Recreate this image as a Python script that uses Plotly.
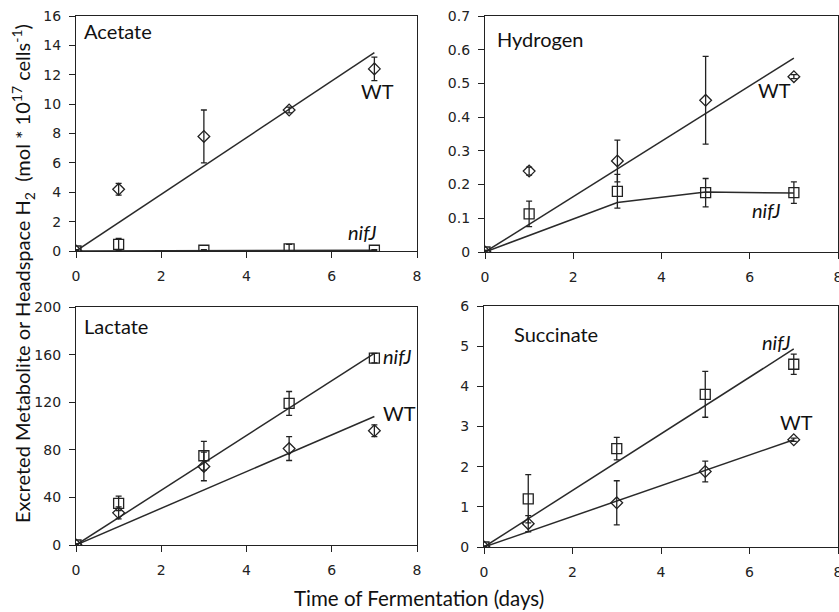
import plotly.graph_objects as go

days = [0, 1, 3, 5, 7]

# Acetate
ace_wt = [0, 4.2, 7.8, 9.6, 12.4]
ace_wt_err = [0.1, 0.4, 1.8, 0.2, 0.8]
ace_nif = [0, 0.45, 0.05, 0.15, 0.05]
ace_nif_err = [0.05, 0.4, 0.05, 0.3, 0.05]
ace_wt_fit = [0, 13.5]
ace_nif_fit = [0, 0.05]

# Hydrogen
h2_wt = [0, 0.24, 0.27, 0.45, 0.52]
h2_wt_err = [0.005, 0.012, 0.062, 0.13, 0.006]
h2_nif = [0, 0.113, 0.18, 0.176, 0.176]
h2_nif_err = [0.005, 0.038, 0.05, 0.042, 0.032]
h2_wt_fit = [0, 0.575]
h2_nif_fit_x = [0, 3, 5, 7]
h2_nif_fit = [0, 0.147, 0.178, 0.175]

# Lactate
lac_wt = [0, 27, 66, 81, 96]
lac_wt_err = [1, 5, 12, 10, 5]
lac_nif = [0, 35, 75, 119, 157]
lac_nif_err = [1, 6, 12, 10, 4]
lac_wt_fit = [0, 108]
lac_nif_fit = [0, 161]

# Succinate
suc_wt = [0, 0.58, 1.1, 1.88, 2.67]
suc_wt_err = [0.02, 0.2, 0.55, 0.26, 0.04]
suc_nif = [0, 1.2, 2.45, 3.8, 4.55]
suc_nif_err = [0.02, 0.6, 0.28, 0.57, 0.25]
suc_wt_fit = [0, 2.67]
suc_nif_fit = [0, 4.93]

fit_x = [0, 7]

W, H = 839, 612
panels = [
    dict(wt=ace_wt, wte=ace_wt_err, nif=ace_nif, nife=ace_nif_err,
         fits=[(fit_x, ace_wt_fit), (fit_x, ace_nif_fit)], yr=[0, 16], dt=2,
         xd=[76/W, 417/W], yd=[1-251/H, 1-16/H],
         labels=[("Acetate", 0.15, 15.0, "left"), ("WT", 7.07, 10.9, "center"),
                 ("<i>nifJ</i>", 6.71, 1.3, "center")]),
    dict(wt=h2_wt, wte=h2_wt_err, nif=h2_nif, nife=h2_nif_err,
         fits=[(fit_x, h2_wt_fit), (h2_nif_fit_x, h2_nif_fit)], yr=[0, 0.7], dt=0.1,
         xd=[485/W, 838/W], yd=[1-252/H, 1-16/H],
         labels=[("Hydrogen", 0.23, 0.632, "left"), ("WT", 6.57, 0.48, "center"),
                 ("<i>nifJ</i>", 6.39, 0.125, "center")]),
    dict(wt=lac_wt, wte=lac_wt_err, nif=lac_nif, nife=lac_nif_err,
         fits=[(fit_x, lac_wt_fit), (fit_x, lac_nif_fit)], yr=[0, 200], dt=40,
         xd=[76/W, 417/W], yd=[1-545/H, 1-307/H],
         labels=[("Lactate", 0.15, 184, "left"), ("WT", 7.58, 111, "center"),
                 ("<i>nifJ</i>", 7.55, 159, "center")]),
    dict(wt=suc_wt, wte=suc_wt_err, nif=suc_nif, nife=suc_nif_err,
         fits=[(fit_x, suc_wt_fit), (fit_x, suc_nif_fit)], yr=[0, 6], dt=1,
         xd=[484/W, 838/W], yd=[1-547/H, 1-306/H],
         labels=[("Succinate", 0.63, 5.30, "left"), ("WT", 7.07, 3.11, "center"),
                 ("<i>nifJ</i>", 6.62, 5.10, "center")]),
]

fig = go.Figure()
line_col = "#2a2a2a"
mk_col = "#222222"
annotations = []
for i, p in enumerate(panels, start=1):
    xa = "x" if i == 1 else f"x{i}"
    ya = "y" if i == 1 else f"y{i}"
    for fx, fy in p["fits"]:
        fig.add_trace(go.Scatter(x=fx, y=fy, mode="lines", xaxis=xa, yaxis=ya,
                                 line=dict(color=line_col, width=1.5), showlegend=False,
                                 hoverinfo="skip"))
    fig.add_trace(go.Scatter(x=days, y=p["nif"], mode="markers", xaxis=xa, yaxis=ya,
                             marker=dict(symbol="square-open", size=10, color=mk_col,
                                         line=dict(width=1.3, color=mk_col)),
                             error_y=dict(type="data", array=p["nife"], color=mk_col,
                                          thickness=1.3, width=3),
                             showlegend=False))
    fig.add_trace(go.Scatter(x=days, y=p["wt"], mode="markers", xaxis=xa, yaxis=ya,
                             marker=dict(symbol="diamond-open", size=9, color=mk_col,
                                         line=dict(width=1.3, color=mk_col)),
                             error_y=dict(type="data", array=p["wte"], color=mk_col,
                                          thickness=1.3, width=3),
                             showlegend=False))
    axkey = "xaxis" if i == 1 else f"xaxis{i}"
    aykey = "yaxis" if i == 1 else f"yaxis{i}"
    common = dict(showgrid=False, zeroline=False, showline=True, linecolor="#222",
                  linewidth=1.3, mirror=True, ticks="outside", ticklen=6,
                  automargin=False, ticklabeloverflow="allow",
                  tickcolor="#222", tickfont=dict(family="DejaVu Sans", size=14, color="#222"))
    fig.update_layout({
        axkey: dict(domain=p["xd"], range=[0, 8], dtick=2, tick0=0, anchor=ya,
                    ticklabelstandoff=6, **common),
        aykey: dict(domain=p["yd"], range=p["yr"], dtick=p["dt"], tick0=0, anchor=xa,
                    ticklabelstandoff=5, **common),
    })
    for txt, lx, ly, al in p["labels"]:
        annotations.append(dict(text=txt, x=lx, y=ly, xref=xa, yref=ya, showarrow=False,
                                xanchor=al, yanchor="middle",
                                font=dict(family="Lato", size=20, color="#111")))

annotations.append(dict(text="Time of Fermentation (days)", x=419/W, y=1-598/H,
                        xref="paper", yref="paper", showarrow=False,
                        xanchor="center", yanchor="middle",
                        font=dict(family="Lato", size=20.5, color="#111")))
annotations.append(dict(text="Excreted Metabolite or Headspace H<sub>2</sub>  (mol * 10<sup>17</sup> cells<sup>-1</sup>)",
                        x=23/W, y=1-274/H, xref="paper", yref="paper", showarrow=False,
                        xanchor="center", yanchor="middle",
                        textangle=-90, font=dict(family="Lato", size=20, color="#111")))

fig.update_layout(width=W, height=H, margin=dict(l=0, r=0, t=0, b=0, autoexpand=False),
                  plot_bgcolor="white", paper_bgcolor="white",
                  annotations=annotations)
fig.write_html("out.html")
